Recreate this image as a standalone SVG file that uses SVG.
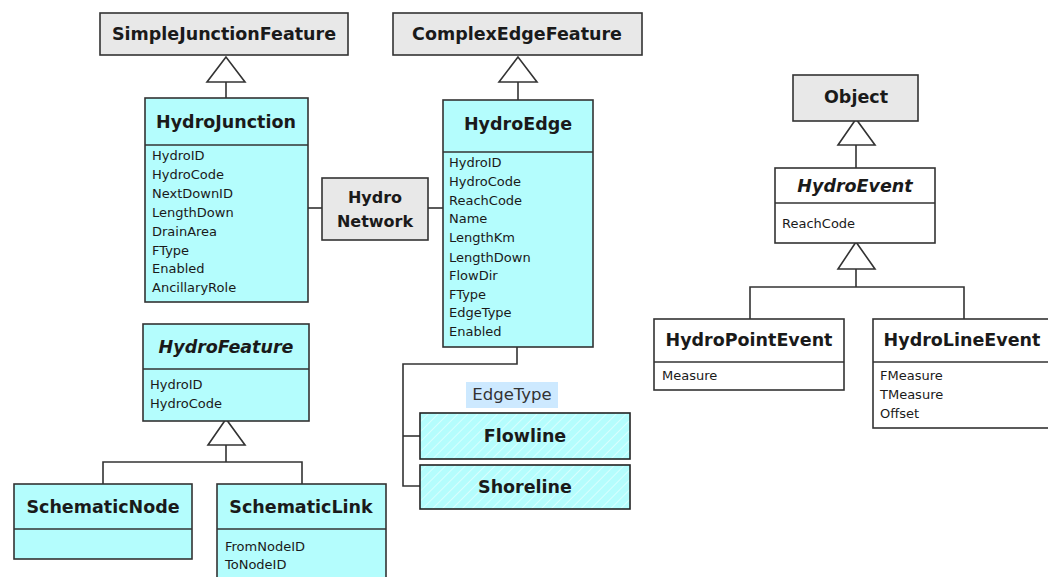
<svg xmlns="http://www.w3.org/2000/svg" width="1048" height="577" viewBox="0 0 1048 577">
  <style>
    .gray { fill: #e8e8e8; stroke: #333; stroke-width: 1.6; }
    .cyan { fill: #b4fdfd; stroke: #333; stroke-width: 1.6; }
    .white { fill: #fff; stroke: #333; stroke-width: 1.6; }
    .hatch { fill: url(#diag); stroke: #222; stroke-width: 1.6; }
    .div { stroke: #333; stroke-width: 1.6; fill: none; }
    .title { font-family: "DejaVu Sans", Verdana, sans-serif; font-size: 17.5px; font-weight: bold; fill: #1a1a1a; text-anchor: middle; }
    .ital { font-style: italic; }
    .attr { font-family: "DejaVu Sans", Verdana, sans-serif; font-size: 13px; fill: #1a1a1a; }
    .conn line, .conn polyline { stroke: #333; stroke-width: 1.6; fill: none; }
    .tri { fill: #fff; stroke: #333; stroke-width: 1.6; }
  </style>
  <defs>
    <pattern id="diag" width="7" height="7" patternUnits="userSpaceOnUse" patternTransform="rotate(45)">
      <rect width="7" height="7" fill="#b4fdfd"/>
      <line x1="0" y1="0" x2="0" y2="7" stroke="#ffffff" stroke-width="1.2" opacity="0.8"/>
    </pattern>
  </defs>
  <rect width="1048" height="577" fill="#fff"/>

  <!-- connectors -->
  <g id="connectors" class="conn">
    <!-- generalization: HydroJunction -> SimpleJunctionFeature -->
    <line x1="226" y1="82" x2="226" y2="98"/>
    <polygon class="tri" points="226,57 207,82 245,82"/>
    <!-- generalization: HydroEdge -> ComplexEdgeFeature -->
    <line x1="518" y1="82" x2="518" y2="100"/>
    <polygon class="tri" points="518,57 499,82 537,82"/>
    <!-- network links -->
    <line x1="308" y1="208" x2="322" y2="208"/>
    <line x1="428" y1="208" x2="443" y2="208"/>
    <!-- HydroFeature subclasses -->
    <polyline points="103,484 103,462 302,462 302,484"/>
    <line x1="226" y1="445" x2="226" y2="462"/>
    <polygon class="tri" points="226,419 208,445 245,445"/>
    <!-- HydroEdge subtypes -->
    <polyline points="517,347 517,364 403,364 403,486 420,486"/>
    <line x1="403" y1="436" x2="420" y2="436"/>
    <!-- HydroEvent -> Object -->
    <line x1="856" y1="145" x2="856" y2="168"/>
    <polygon class="tri" points="856,119 838,145 875,145"/>
    <!-- event subclasses -->
    <polyline points="750,319 750,287 964,287 964,319"/>
    <line x1="856" y1="269" x2="856" y2="287"/>
    <polygon class="tri" points="856,242 838,269 875,269"/>
  </g>

  <g id="SimpleJunctionFeature">
    <rect class="gray" x="100" y="13" width="248" height="42"/>
    <text class="title" x="224" y="40">SimpleJunctionFeature</text>
  </g>

  <g id="ComplexEdgeFeature">
    <rect class="gray" x="393" y="13" width="249" height="42"/>
    <text class="title" x="517" y="40">ComplexEdgeFeature</text>
  </g>

  <g id="HydroJunction">
    <rect class="cyan" x="145" y="98" width="163" height="204"/>
    <line class="div" x1="145" y1="145" x2="308" y2="145"/>
    <text class="title" x="226" y="128">HydroJunction</text>
    <text class="attr" x="152" y="160">HydroID</text>
    <text class="attr" x="152" y="179">HydroCode</text>
    <text class="attr" x="152" y="198">NextDownID</text>
    <text class="attr" x="152" y="217">LengthDown</text>
    <text class="attr" x="152" y="236">DrainArea</text>
    <text class="attr" x="152" y="255">FType</text>
    <text class="attr" x="152" y="273">Enabled</text>
    <text class="attr" x="152" y="292">AncillaryRole</text>
  </g>

  <g id="HydroNetwork">
    <rect class="gray" x="322" y="178" width="106" height="62"/>
    <text class="title" style="font-size:16px" x="375" y="203">Hydro</text>
    <text class="title" style="font-size:16px" x="375" y="227">Network</text>
  </g>

  <g id="HydroEdge">
    <rect class="cyan" x="443" y="100" width="150" height="247"/>
    <line class="div" x1="443" y1="152" x2="593" y2="152"/>
    <text class="title" x="518" y="130">HydroEdge</text>
    <text class="attr" x="449" y="167">HydroID</text>
    <text class="attr" x="449" y="186">HydroCode</text>
    <text class="attr" x="449" y="205">ReachCode</text>
    <text class="attr" x="449" y="223">Name</text>
    <text class="attr" x="449" y="242">LengthKm</text>
    <text class="attr" x="449" y="262">LengthDown</text>
    <text class="attr" x="449" y="280">FlowDir</text>
    <text class="attr" x="449" y="299">FType</text>
    <text class="attr" x="449" y="317">EdgeType</text>
    <text class="attr" x="449" y="336">Enabled</text>
  </g>

  <g id="HydroFeature">
    <rect class="cyan" x="143" y="324" width="166" height="97"/>
    <line class="div" x1="143" y1="369" x2="309" y2="369"/>
    <text class="title ital" x="226" y="353">HydroFeature</text>
    <text class="attr" x="150" y="389">HydroID</text>
    <text class="attr" x="150" y="408">HydroCode</text>
  </g>

  <g id="SchematicNode">
    <rect class="cyan" x="14" y="484" width="178" height="75"/>
    <line class="div" x1="14" y1="529" x2="192" y2="529"/>
    <text class="title" x="103" y="513">SchematicNode</text>
  </g>

  <g id="SchematicLink">
    <rect class="cyan" x="217" y="484" width="169" height="110"/>
    <line class="div" x1="217" y1="529" x2="386" y2="529"/>
    <text class="title" x="301" y="513">SchematicLink</text>
    <text class="attr" x="225" y="551">FromNodeID</text>
    <text class="attr" x="225" y="569">ToNodeID</text>
  </g>

  <g id="EdgeTypeLabel">
    <rect x="466" y="382" width="92" height="26" fill="#cde9ff"/>
    <text x="512" y="400" font-family="DejaVu Sans, Verdana, sans-serif" font-size="16.5" fill="#333" text-anchor="middle">EdgeType</text>
  </g>

  <g id="Flowline">
    <rect class="hatch" x="420" y="413" width="210" height="46"/>
    <text class="title" x="525" y="442">Flowline</text>
  </g>

  <g id="Shoreline">
    <rect class="hatch" x="420" y="465" width="210" height="44"/>
    <text class="title" x="525" y="493">Shoreline</text>
  </g>

  <g id="Object">
    <rect class="gray" x="793" y="75" width="125" height="46"/>
    <text class="title" x="856" y="103">Object</text>
  </g>

  <g id="HydroEvent">
    <rect class="white" x="775" y="168" width="160" height="75"/>
    <line class="div" x1="775" y1="203" x2="935" y2="203"/>
    <text class="title ital" x="855" y="192">HydroEvent</text>
    <text class="attr" x="782" y="228">ReachCode</text>
  </g>

  <g id="HydroPointEvent">
    <rect class="white" x="654" y="319" width="190" height="71"/>
    <line class="div" x1="654" y1="362" x2="844" y2="362"/>
    <text class="title" x="749" y="346">HydroPointEvent</text>
    <text class="attr" x="662" y="380">Measure</text>
  </g>

  <g id="HydroLineEvent">
    <rect class="white" x="873" y="319" width="190" height="109"/>
    <line class="div" x1="873" y1="362" x2="1063" y2="362"/>
    <text class="title" x="962" y="346">HydroLineEvent</text>
    <text class="attr" x="880" y="380">FMeasure</text>
    <text class="attr" x="880" y="399">TMeasure</text>
    <text class="attr" x="880" y="418">Offset</text>
  </g>
</svg>
